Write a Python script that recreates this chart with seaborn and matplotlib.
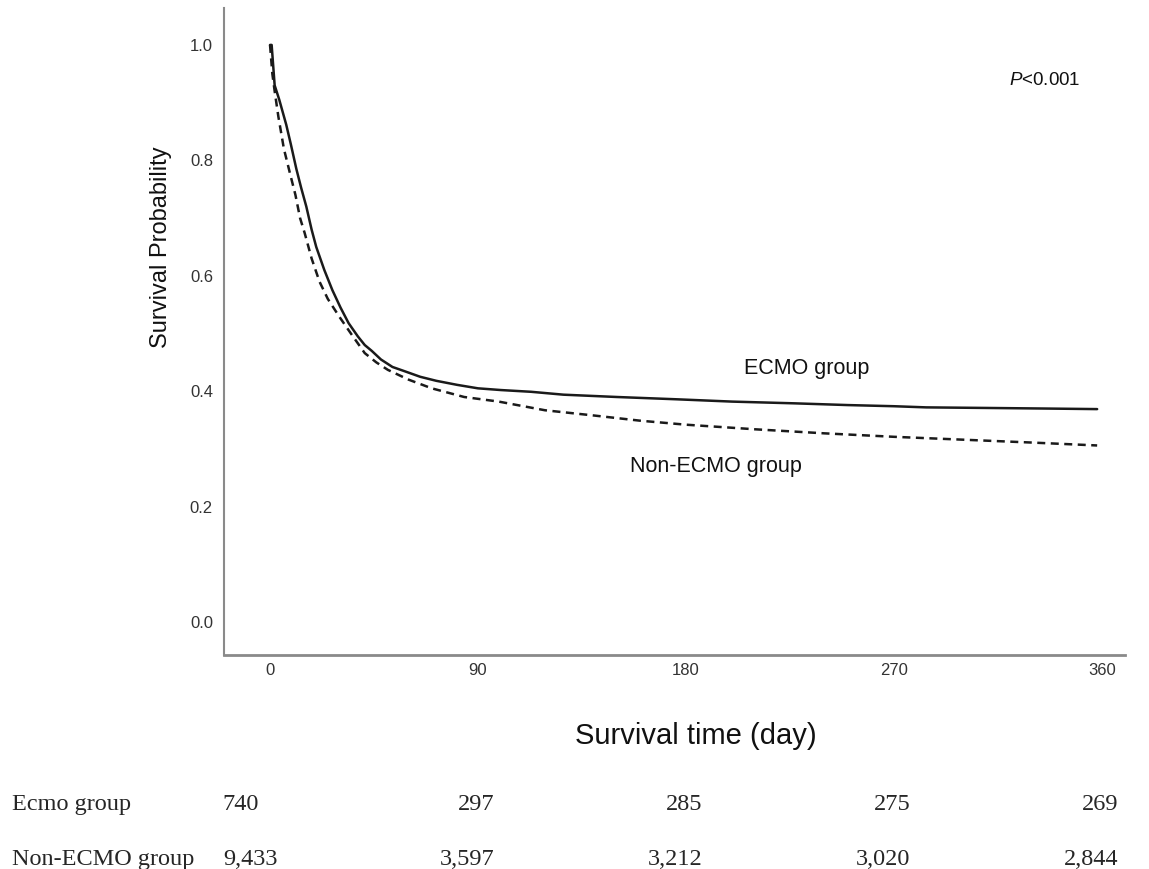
import pandas as pd
import matplotlib.pyplot as plt
import matplotlib.transforms as mtransforms
import seaborn as sns

# Kaplan-Meier curves (day, survival probability)
ecmo_days = [0, 0.7, 2, 4, 7, 9, 11.4, 13.5, 15.7, 18, 20, 23.5, 27, 30.5, 34, 38, 41, 44, 48, 53,
             58, 65, 72, 81, 90, 100, 113, 127, 150, 176, 200, 227, 250, 270, 284, 310, 335, 358]
ecmo_surv = [1.0, 1.0, 0.93, 0.905, 0.862, 0.828, 0.785, 0.752, 0.72, 0.68, 0.65, 0.61, 0.575, 0.545, 0.518,
             0.495, 0.48, 0.47, 0.455, 0.442, 0.435, 0.425, 0.418, 0.411, 0.405, 0.402, 0.399, 0.394,
             0.390, 0.386, 0.382, 0.379, 0.376, 0.374, 0.372, 0.371, 0.370, 0.369]

non_ecmo_days = [0, 1, 2, 3.6, 6, 8.6, 11, 13, 15, 18, 21.4, 25, 30, 35, 41, 46, 51, 60, 70, 84,
                 99, 119, 140, 160, 180, 210, 240, 270, 300, 330, 358]
non_ecmo_surv = [1.0, 0.95, 0.92, 0.876, 0.82, 0.778, 0.74, 0.70, 0.674, 0.63, 0.59, 0.56, 0.529, 0.50,
                 0.466, 0.45, 0.437, 0.42, 0.405, 0.39, 0.382, 0.367, 0.358, 0.349, 0.342, 0.334,
                 0.327, 0.321, 0.316, 0.311, 0.306]

# number-at-risk table
risk_days = [0, 90, 180, 270, 360]
risk_ecmo = ["740", "297", "285", "275", "269"]
risk_non_ecmo = ["9,433", "3,597", "3,212", "3,020", "2,844"]
risk_labels = ["Ecmo group", "Non-ECMO group"]

sns.set_theme(style="white")
plt.rcParams["font.family"] = ["Liberation Sans", "DejaVu Sans"]
plt.rcParams["mathtext.fontset"] = "custom"
plt.rcParams["mathtext.it"] = "Liberation Sans:italic"
plt.rcParams["mathtext.rm"] = "Liberation Sans"

fig = plt.figure(figsize=(11.49, 8.69), dpi=100)
ax = fig.add_axes([0.195, 0.2463, 0.784, 0.7445])

ecmo = pd.DataFrame({"day": ecmo_days, "surv": ecmo_surv})
non_ecmo = pd.DataFrame({"day": non_ecmo_days, "surv": non_ecmo_surv})

sns.lineplot(data=ecmo, x="day", y="surv", ax=ax, color="#1a1a1a", lw=1.8, estimator=None)
sns.lineplot(data=non_ecmo, x="day", y="surv", ax=ax, color="#1a1a1a", lw=1.8,
             estimator=None, linestyle=(0, (3.2, 2.2)))

ax.set_xlim(-19.9, 370)
ax.set_ylim(-0.057, 1.064)
ax.set_xticks(risk_days)
ax.set_yticks([0.0, 0.2, 0.4, 0.6, 0.8, 1.0])
ax.set_yticklabels(["0.0", "0.2", "0.4", "0.6", "0.8", "1.0"])
ax.tick_params(axis="both", length=0, labelsize=12, colors="#333333")
ax.tick_params(axis="y", pad=8)
ax.tick_params(axis="x", pad=6)

for side in ["top", "right"]:
    ax.spines[side].set_visible(False)
ax.spines["left"].set_color("#8a8a8a")
ax.spines["left"].set_linewidth(1.5)
ax.spines["bottom"].set_color("#8a8a8a")
ax.spines["bottom"].set_linewidth(2.0)

ax.set_xlabel("Survival time (day)", fontsize=21, color="#111111")
ax.set_ylabel("Survival Probability", fontsize=17, color="#111111")
ax.xaxis.set_label_coords(0.524, -0.1036)
ax.yaxis.set_label_coords(-0.058, 0.6306)

ax.text(205, 0.44, "ECMO group", fontsize=15.5, va="center", ha="left", color="#111111")
ax.text(155.6, 0.27, "Non-ECMO group", fontsize=15.5, va="center", ha="left", color="#111111")
ax.text(320, 0.939, r"$\it{P}$<0.001", fontsize=13.5, va="center", ha="left", color="#111111")

# number at risk below the axes
serif = ["Liberation Serif", "DejaVu Serif"]
blend = mtransforms.blended_transform_factory(ax.transData, fig.transFigure)
for row_y, label, counts in [(0.0679, risk_labels[0], risk_ecmo),
                             (0.0046, risk_labels[1], risk_non_ecmo)]:
    fig.text(0.0104, row_y, label, fontsize=17.5, family=serif, va="baseline", ha="left")
    for i, (d, c) in enumerate(zip(risk_days, counts)):
        if i == 0:
            tr = mtransforms.offset_copy(blend, fig=fig, x=-34, y=0, units="points")
            fig.text(d, row_y, c, transform=tr, fontsize=17.5, family=serif, va="baseline", ha="left")
        else:
            tr = mtransforms.offset_copy(blend, fig=fig, x=12, y=0, units="points")
            fig.text(d, row_y, c, transform=tr, fontsize=17.5, family=serif, va="baseline", ha="right")

fig.savefig("out.png", dpi=100)
plt.close(fig)
